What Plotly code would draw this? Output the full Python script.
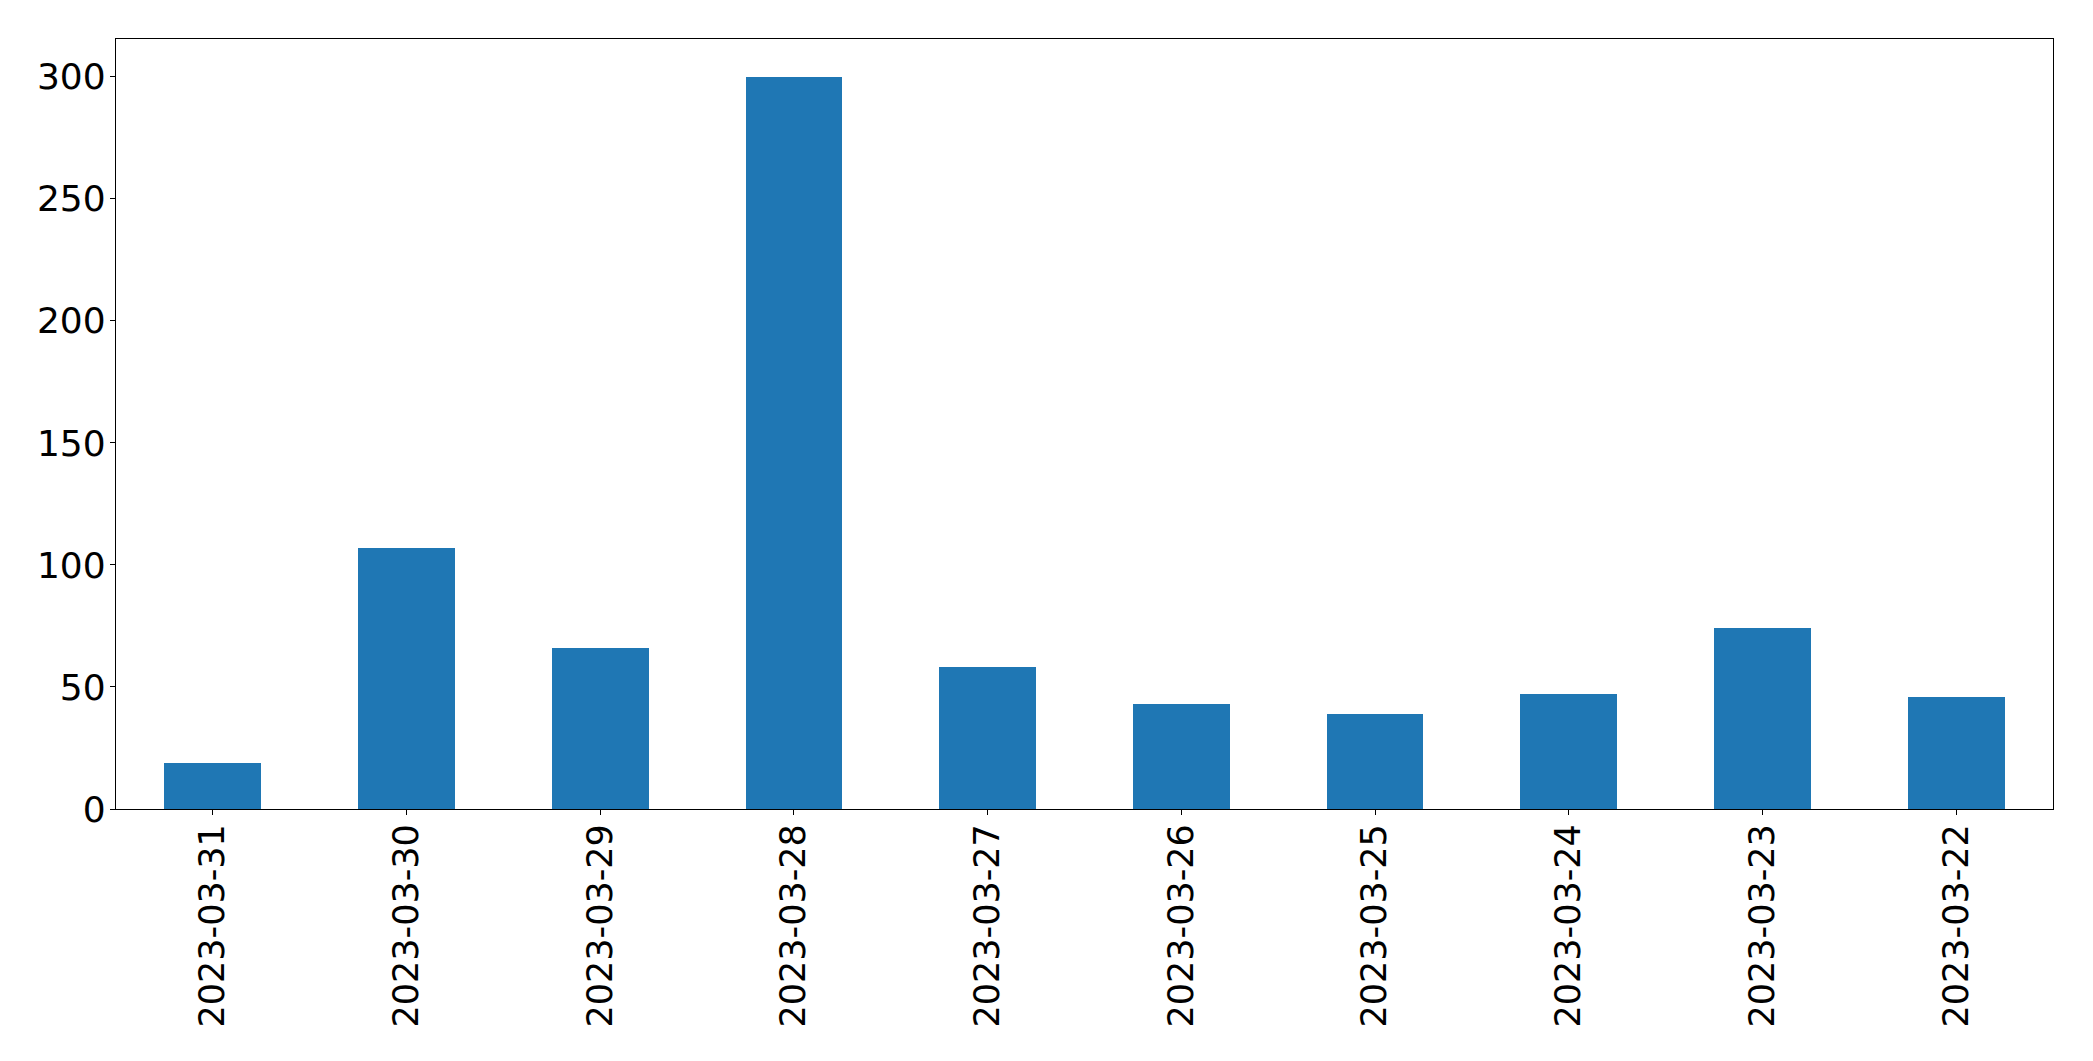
import plotly.graph_objects as go

dates = ["2023-03-31", "2023-03-30", "2023-03-29", "2023-03-28", "2023-03-27",
         "2023-03-26", "2023-03-25", "2023-03-24", "2023-03-23", "2023-03-22"]
counts = [19, 107, 66, 300, 58, 43, 39, 47, 74, 46]
y_ticks = [0, 50, 100, 150, 200, 250, 300]

fig = go.Figure(go.Bar(
    x=list(range(len(dates))), y=counts, width=0.5,
    marker=dict(color="#1f77b4", line=dict(width=0)),
))

font = dict(family="DejaVu Sans", size=35, color="black")
fig.update_layout(
    width=2093, height=1061,
    margin=dict(l=116, r=40, t=39, b=252),
    paper_bgcolor="white", plot_bgcolor="white",
    showlegend=False,
    font=font,
    bargap=0,
)
fig.update_xaxes(
    range=[-0.5, len(dates) - 0.5],
    tickmode="array", tickvals=list(range(len(dates))), ticktext=dates,
    tickangle=-90, tickfont=font,
    ticklabelstandoff=-5,
    showline=True, linecolor="black", linewidth=1.3, mirror=True,
    ticks="outside", ticklen=5, tickwidth=1.3, tickcolor="black",
    showgrid=False, zeroline=False,
)
fig.update_yaxes(
    range=[0, 315.5],
    tickmode="array", tickvals=y_ticks, ticktext=[str(v) for v in y_ticks],
    tickfont=dict(family="DejaVu Sans", size=36, color="black"),
    ticklabelstandoff=-3,
    showline=True, linecolor="black", linewidth=1.3, mirror=True,
    ticks="outside", ticklen=5, tickwidth=1.3, tickcolor="black",
    showgrid=False, zeroline=False,
)

fig.write_html("out.html")
